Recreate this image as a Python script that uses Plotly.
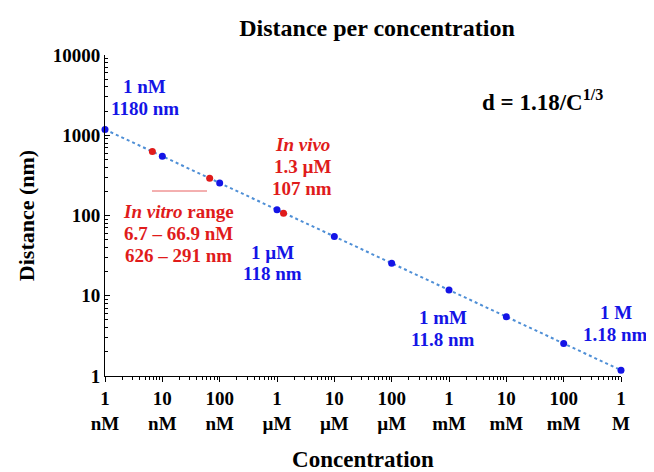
import plotly.graph_objects as go

# Data (concentration in nM, distance in nm)
conc_nM = [1, 10, 100, 1e3, 1e4, 1e5, 1e6, 1e7, 1e8, 1e9]
dist_nm = [1180, 548, 254, 118, 54.8, 25.4, 11.8, 5.48, 2.54, 1.18]
red_conc_nM = [6.7, 66.9, 1300]
red_dist_nm = [626, 291, 107]
x_tick_vals = [1, 10, 100, 1e3, 1e4, 1e5, 1e6, 1e7, 1e8, 1e9]
x_tick_text = ["1<br>nM", "10<br>nM", "100<br>nM", "1<br>µM", "10<br>µM",
               "100<br>µM", "1<br>mM", "10<br>mM", "100<br>mM", "1<br>M"]
y_tick_vals = [1, 10, 100, 1000, 10000]
y_tick_text = ["1", "10", "100", "1000", "10000"]

BLUE = "#1414e6"
RED = "#e01b1b"
LINE = "#4f8fd6"
FONT = "Liberation Serif"

# layout geometry (page pixels; the page has an 8px body margin)
OFF = 8
W, H = 654 - OFF, 472 - OFF
ML, MR, MT, MB = 105 - OFF, 33, 55 - OFF, 96
X0, X1 = 105, 654 - MR          # plot area in page px
Y0, Y1 = 55, OFF + H - MB


def px2x(px):
    return (px - X0) / (X1 - X0) * 9


def py2y(py):
    return (Y1 - py) / (Y1 - Y0) * 4


fig = go.Figure()
fig.add_trace(go.Scatter(x=conc_nM, y=dist_nm, mode="lines",
                         line=dict(color=LINE, width=2, dash="dot"),
                         hoverinfo="skip", showlegend=False))
fig.add_trace(go.Scatter(x=red_conc_nM, y=red_dist_nm, mode="markers",
                         marker=dict(color=RED, size=7),
                         showlegend=False, cliponaxis=False))
fig.add_trace(go.Scatter(x=conc_nM, y=dist_nm, mode="markers",
                         marker=dict(color=BLUE, size=7),
                         showlegend=False, cliponaxis=False))


def ann(px, py, text, color, size=19):
    fig.add_annotation(x=px2x(px), y=py2y(py), xref="x", yref="y", text=text,
                       showarrow=False,
                       font=dict(family=FONT, size=size, color=color),
                       xanchor="center", yanchor="middle", align="center")


ann(144, 86, "<b>1 nM</b>", BLUE)
ann(145, 108, "<b>1180 nm</b>", BLUE)
ann(542, 100, "<b>d = 1.18/C<sup>1/3</sup></b>", "black", 23)
ann(302, 144, "<b><i>In vivo</i></b>", RED)
ann(302, 166, "<b>1.3 µM</b>", RED)
ann(302, 188, "<b>107 nm</b>", RED)
ann(178, 211, "<b><i>In vitro</i> range</b>", RED)
ann(178, 233, "<b>6.7 – 66.9 nM</b>", RED)
ann(178, 255, "<b>626 – 291 nm</b>", RED)
ann(272, 252, "<b>1 µM</b>", BLUE)
ann(272, 273, "<b>118 nm</b>", BLUE)
ann(443, 317, "<b>1 mM</b>", BLUE)
ann(443, 339, "<b>11.8 nm</b>", BLUE)
ann(616, 312, "<b>1 M</b>", BLUE)
ann(615, 334, "<b>1.18 nm</b>", BLUE)

fig.add_shape(type="line", xref="x", yref="y", x0=10 ** px2x(152), x1=10 ** px2x(207),
              y0=10 ** py2y(191), y1=10 ** py2y(191), line=dict(color="#e86060", width=1))

tickfont = dict(family=FONT, size=19, color="black", weight="bold")

fig.update_layout(
    width=W, height=H,
    paper_bgcolor="white", plot_bgcolor="white",
    margin=dict(l=ML, r=MR, t=MT, b=MB),
    font=dict(family=FONT, size=19, color="black"),
    title=dict(text="<b>Distance per concentration</b>", x=(377 - OFF) / W, xanchor="center",
               y=1 - (28 - OFF) / H, yanchor="middle", font=dict(family=FONT, size=24)),
    xaxis=dict(type="log", range=[0, 9], tickvals=x_tick_vals, ticktext=x_tick_text,
               showgrid=False, zeroline=False, showline=True, linecolor="black",
               linewidth=1, ticks="outside", ticklen=5, tickcolor="black",
               tickfont=tickfont, automargin=False,
               minor=dict(ticks="outside", ticklen=3, dtick="D1", tickcolor="black", showgrid=False),
               title=dict(text="<b>Concentration</b>", font=dict(family=FONT, size=23), standoff=20)),
    yaxis=dict(type="log", range=[0, 4], tickvals=y_tick_vals, ticktext=y_tick_text,
               showgrid=False, zeroline=False, showline=True, linecolor="black",
               linewidth=1, ticks="inside", ticklen=5, tickcolor="black",
               tickfont=tickfont, automargin=False,
               minor=dict(ticks="inside", ticklen=3, dtick="D1", tickcolor="black", showgrid=False),
               title=dict(text="<b>Distance (nm)</b>", font=dict(family=FONT, size=22), standoff=12)),
)

fig.write_html("out.html")
